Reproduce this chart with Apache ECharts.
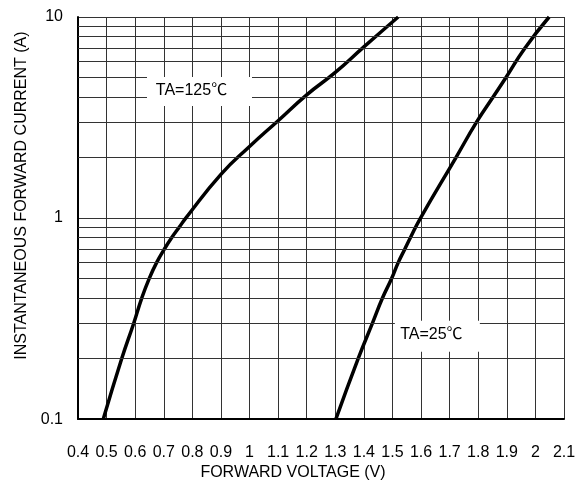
<!DOCTYPE html>
<html>
<head>
<meta charset="utf-8">
<script src="https://cdn.jsdelivr.net/npm/echarts@6/dist/echarts.min.js"></script>
<style>
  html, body { margin: 0; padding: 0; background: #fff; }
  #chart { width: 586px; height: 486px; }
</style>
</head>
<body>
<div id="chart"></div>
<script>
// forward voltage (V) / current (A)
var hotVolts = [0.4885, 0.553, 0.595, 0.623, 0.649, 0.675, 0.702, 0.728, 0.754, 0.777, 0.9, 1.0, 1.1, 1.2, 1.3, 1.4, 1.52];
var hotAmps = [0.1, 0.2, 0.3, 0.4, 0.5, 0.6, 0.7, 0.8, 0.9, 1.0, 1.65, 2.27, 3.05, 4.1, 5.3, 7.1, 10];
var roomVolts = [1.302, 1.38, 1.43, 1.465, 1.497, 1.52, 1.543, 1.563, 1.598, 1.722, 1.794, 1.852, 1.897, 1.963, 2.048];
var roomAmps = [0.1, 0.2, 0.3, 0.4, 0.5, 0.6, 0.7, 0.8, 1.0, 2.0, 3.0, 4.0, 5.0, 7.0, 10];

// log minor grid values
var minorGrid = [0.2, 0.3, 0.4, 0.5, 0.6, 0.7, 0.8, 0.9, 2, 3, 4, 5, 6, 7, 8, 9];

// curve labels: [text, x, y]
var hotLabel = ['TA=125℃', 0.825, 4.26];
var roomLabel = ['TA=25℃', 1.657, 0.258];

var font = '"Liberation Sans", "Noto Sans CJK SC", sans-serif';
var gridColor = '#333';

function pairs(xs, ys) {
  return xs.map(function (x, i) { return [x, ys[i]]; });
}

function labelPoint(lbl, size, offset) {
  return {
    silent: true,
    symbol: 'rect',
    symbolSize: size,
    itemStyle: { color: '#fff' },
    label: {
      show: true,
      position: 'inside',
      offset: offset,
      formatter: lbl[0],
      color: '#000',
      fontFamily: font,
      fontSize: 16
    },
    data: [{ coord: [lbl[1], lbl[2]] }]
  };
}

var chart = echarts.init(document.getElementById('chart'));

chart.setOption({
  animation: false,
  grid: { left: 78, right: 22, top: 17, bottom: 64 },
  xAxis: {
    type: 'value',
    min: 0.4,
    max: 2.1,
    interval: 0.1,
    name: 'FORWARD VOLTAGE (V)',
    nameLocation: 'middle',
    nameGap: 43,
    nameTextStyle: { color: '#000', fontFamily: font, fontSize: 16, padding: [0, 56, 0, 0] },
    axisLine: { lineStyle: { color: '#000', width: 2 } },
    axisTick: { show: false },
    axisLabel: {
      color: '#000',
      fontFamily: font,
      fontSize: 16,
      margin: 25,
      formatter: function (v) { return String(+v.toFixed(1)); }
    },
    splitLine: { show: true, lineStyle: { color: gridColor, width: 1 } }
  },
  yAxis: {
    type: 'log',
    logBase: 10,
    min: 0.1,
    max: 10,
    name: 'INSTANTANEOUS FORWARD CURRENT (A)',
    nameLocation: 'middle',
    nameGap: 47,
    nameTextStyle: { color: '#000', fontFamily: font, fontSize: 16, padding: [0, 0, 0, 45] },
    axisLine: { show: true, lineStyle: { color: '#000', width: 2 } },
    axisTick: { show: false },
    axisLabel: {
      color: '#000',
      fontFamily: font,
      fontSize: 16,
      margin: 15,
      formatter: function (v) { return String(+v.toFixed(1)); }
    },
    splitLine: { show: true, lineStyle: { color: gridColor, width: 1 } }
  },
  series: [
    {
      // holder for the minor log grid lines
      type: 'line',
      z: 1,
      data: [],
      silent: true,
      markLine: {
        silent: true,
        symbol: ['none', 'none'],
        label: { show: false },
        lineStyle: { color: gridColor, width: 1, type: 'solid' },
        data: minorGrid.map(function (v) { return { yAxis: v }; })
      }
    },
    {
      name: 'TA=125',
      type: 'line',
      z: 3,
      smooth: 0.5,
      showSymbol: false,
      lineStyle: { color: '#000', width: 3.5 },
      data: pairs(hotVolts, hotAmps),
      markPoint: labelPoint(hotLabel, [105, 29], [-8, -1])
    },
    {
      name: 'TA=25',
      type: 'line',
      z: 3,
      smooth: 0.5,
      showSymbol: false,
      lineStyle: { color: '#000', width: 3.5 },
      data: pairs(roomVolts, roomAmps),
      markPoint: labelPoint(roomLabel, [85, 31], [-6, -2])
    }
  ]
});
</script>
</body>
</html>
